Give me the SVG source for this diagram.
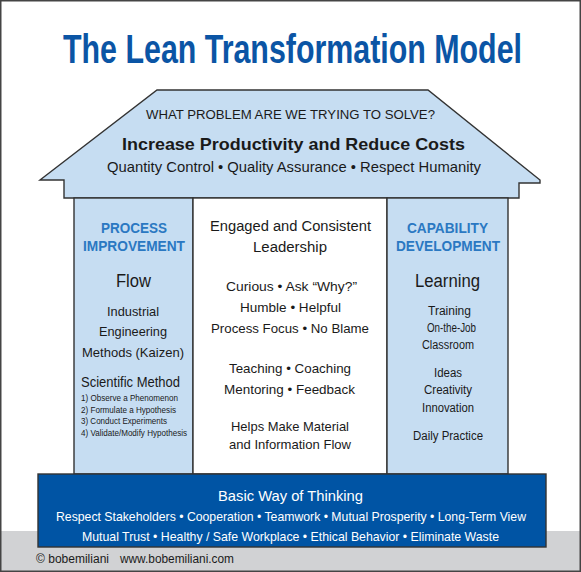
<svg xmlns="http://www.w3.org/2000/svg" width="581" height="572" viewBox="0 0 581 572">
<style>
text{font-family:"Liberation Sans",Arial,Helvetica,sans-serif;fill:#1a1a1a;text-anchor:middle}
.ln{stroke:#333;stroke-width:1.4}
.lb{fill:#c6ddf2}
.hd{font-weight:bold;fill:#2a78c2;font-size:14px}
.w{fill:#fff}
.l{text-anchor:start}
</style>
<g id="background">
<rect x="0" y="0" width="581" height="572" fill="#fff"/>
<rect x="0" y="531" width="581" height="41" fill="#d1d2d4"/>
<rect x="0.75" y="0.75" width="579.5" height="570.5" fill="none" stroke="#444" stroke-width="1.5"/>
</g>
<g id="title">
<text transform="translate(292.5,63) scale(1,1.36)" x="0" y="0" font-size="30" font-weight="bold" style="fill:#0b55a5" textLength="459" lengthAdjust="spacingAndGlyphs">The Lean Transformation Model</text>
</g>
<g id="roof">
<polygon class="lb ln" points="40,180 157,90 428,90 540,180 540,183 519,183 519,198 64,198 64,180"/>
<text x="290.5" y="119" font-size="12" textLength="289" lengthAdjust="spacingAndGlyphs">WHAT PROBLEM ARE WE TRYING TO SOLVE?</text>
<text x="293.5" y="150" font-size="16.5" font-weight="bold" textLength="343" lengthAdjust="spacingAndGlyphs">Increase Productivity and Reduce Costs</text>
<text x="294" y="172" font-size="15" textLength="374" lengthAdjust="spacingAndGlyphs">Quantity Control • Quality Assurance • Respect Humanity</text>
</g>
<g id="process-improvement">
<rect class="lb ln" x="74" y="198" width="119" height="276"/>
<text class="hd" x="134" y="233" textLength="66" lengthAdjust="spacingAndGlyphs">PROCESS</text>
<text class="hd" x="134" y="251" textLength="102" lengthAdjust="spacingAndGlyphs">IMPROVEMENT</text>
<text x="133.5" y="287" font-size="18" textLength="35" lengthAdjust="spacingAndGlyphs">Flow</text>
<text x="133" y="316" font-size="13" textLength="52" lengthAdjust="spacingAndGlyphs">Industrial</text>
<text x="133" y="336" font-size="13" textLength="68" lengthAdjust="spacingAndGlyphs">Engineering</text>
<text x="133" y="357" font-size="13" textLength="102" lengthAdjust="spacingAndGlyphs">Methods (Kaizen)</text>
<text class="l" x="81" y="387" font-size="14" textLength="99" lengthAdjust="spacingAndGlyphs">Scientific Method</text>
<text class="l" x="81" y="401" font-size="9" textLength="97" lengthAdjust="spacingAndGlyphs">1) Observe a Phenomenon</text>
<text class="l" x="81" y="413" font-size="9" textLength="95" lengthAdjust="spacingAndGlyphs">2) Formulate a Hypothesis</text>
<text class="l" x="81" y="424" font-size="9" textLength="86" lengthAdjust="spacingAndGlyphs">3) Conduct Experiments</text>
<text class="l" x="81" y="436" font-size="9" textLength="106" lengthAdjust="spacingAndGlyphs">4) Validate/Modify Hypothesis</text>
</g>
<g id="leadership">
<rect class="ln" fill="#fff" x="193" y="198" width="194" height="276"/>
<text x="290.5" y="231" font-size="15.5" textLength="161" lengthAdjust="spacingAndGlyphs">Engaged and Consistent</text>
<text x="290" y="252" font-size="15.5" textLength="74" lengthAdjust="spacingAndGlyphs">Leadership</text>
<text x="291.5" y="291" font-size="13.5" textLength="131" lengthAdjust="spacingAndGlyphs">Curious • Ask “Why?”</text>
<text x="290.5" y="312" font-size="13.5" textLength="101" lengthAdjust="spacingAndGlyphs">Humble • Helpful</text>
<text x="290" y="333" font-size="13.5" textLength="158" lengthAdjust="spacingAndGlyphs">Process Focus • No Blame</text>
<text x="290" y="373" font-size="13.5" textLength="122" lengthAdjust="spacingAndGlyphs">Teaching • Coaching</text>
<text x="289.5" y="394" font-size="13.5" textLength="131" lengthAdjust="spacingAndGlyphs">Mentoring • Feedback</text>
<text x="290" y="431" font-size="13.5" textLength="118" lengthAdjust="spacingAndGlyphs">Helps Make Material</text>
<text x="290" y="449" font-size="13.5" textLength="122" lengthAdjust="spacingAndGlyphs">and Information Flow</text>
</g>
<g id="capability-development">
<rect class="lb ln" x="387" y="198" width="121" height="276"/>
<text class="hd" x="447.5" y="233" textLength="81" lengthAdjust="spacingAndGlyphs">CAPABILITY</text>
<text class="hd" x="448" y="251" textLength="104" lengthAdjust="spacingAndGlyphs">DEVELOPMENT</text>
<text x="447.5" y="287" font-size="18" textLength="65" lengthAdjust="spacingAndGlyphs">Learning</text>
<text x="449.5" y="315" font-size="12.5" textLength="43" lengthAdjust="spacingAndGlyphs">Training</text>
<text x="451.5" y="332" font-size="12" textLength="49" lengthAdjust="spacingAndGlyphs">On-the-Job</text>
<text x="448" y="349" font-size="12" textLength="52" lengthAdjust="spacingAndGlyphs">Classroom</text>
<text x="448" y="377" font-size="12" textLength="28" lengthAdjust="spacingAndGlyphs">Ideas</text>
<text x="448" y="394" font-size="12" textLength="48" lengthAdjust="spacingAndGlyphs">Creativity</text>
<text x="448" y="412" font-size="12" textLength="52" lengthAdjust="spacingAndGlyphs">Innovation</text>
<text x="448" y="440" font-size="12" textLength="70" lengthAdjust="spacingAndGlyphs">Daily Practice</text>
</g>
<g id="basic-way-of-thinking">
<rect x="38" y="474" width="508" height="73" fill="#0054a4" stroke="#333" stroke-width="1.4"/>
<text class="w" x="290.5" y="501" font-size="15" textLength="145" lengthAdjust="spacingAndGlyphs">Basic Way of Thinking</text>
<text class="w" x="291" y="521" font-size="13" textLength="470" lengthAdjust="spacingAndGlyphs">Respect Stakeholders • Cooperation • Teamwork • Mutual Prosperity • Long-Term View</text>
<text class="w" x="290.5" y="541" font-size="13" textLength="417" lengthAdjust="spacingAndGlyphs">Mutual Trust • Healthy / Safe Workplace • Ethical Behavior • Eliminate Waste</text>
</g>
<g id="footer">
<text class="l" x="36" y="563" font-size="12" textLength="73" lengthAdjust="spacingAndGlyphs">© bobemiliani</text>
<text class="l" x="120" y="563" font-size="12" textLength="114" lengthAdjust="spacingAndGlyphs">www.bobemiliani.com</text>
</g>
</svg>
